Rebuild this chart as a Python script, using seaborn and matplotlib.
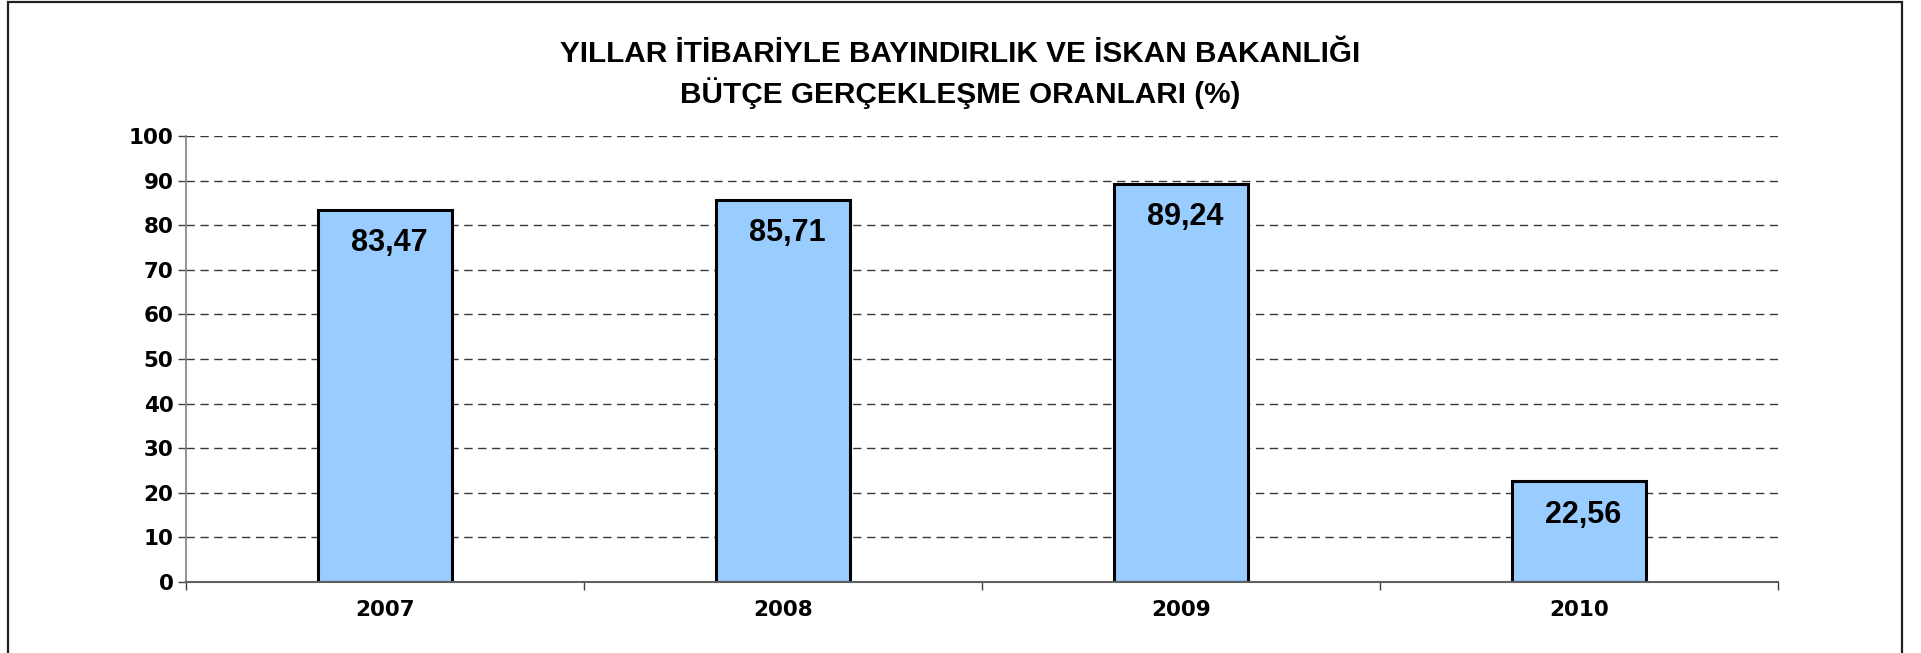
import matplotlib
matplotlib.use("Agg")
import matplotlib.pyplot as plt
import seaborn as sns
import pandas as pd
from matplotlib.patches import Rectangle

# ==========================
# DATA
# ==========================
years = ["2007", "2008", "2009", "2010"]
rates = [83.47, 85.71, 89.24, 22.56]
rate_labels = ["83,47", "85,71", "89,24", "22,56"]
y_ticks = [0, 10, 20, 30, 40, 50, 60, 70, 80, 90, 100]
title_lines = [
    "YILLAR İTİBARİYLE BAYINDIRLIK VE İSKAN BAKANLIĞI",
    "BÜTÇE GERÇEKLEŞME ORANLARI (%)",
]

df = pd.DataFrame({"year": years, "rate": rates})

# ==========================
# FIGURE
# ==========================
sns.set_theme(style="white")
plt.rcParams["font.family"] = ["DejaVu Sans"]
plt.rcParams["text.color"] = "black"
plt.rcParams["xtick.color"] = "black"
plt.rcParams["ytick.color"] = "black"

fig = plt.figure(figsize=(19.21, 6.53), dpi=100)
ax = fig.add_axes([0.0968, 0.1087, 0.9256 - 0.0968, 0.7917 - 0.1087])

# gridlines first so bars sit on top
ax.set_axisbelow(True)
ax.yaxis.grid(True, color="#383838", linestyle=(0, (6, 4)), linewidth=1.0)
ax.xaxis.grid(False)

sns.barplot(
    data=df, x="year", y="rate", ax=ax,
    color="#99CCFF", edgecolor="black", linewidth=2.2,
    width=0.337, saturation=1,
)

ax.set_xlim(-0.5, len(years) - 0.5)
ax.set_ylim(0, 100)
ax.set_yticks(y_ticks)
ax.set_yticklabels([str(t) for t in y_ticks], fontsize=15.5, fontweight="bold",
                   color="black")
ax.set_xticks(range(len(years)))
ax.set_xticklabels(years, fontsize=15.5, fontweight="bold", color="black")
ax.set_xlabel("")
ax.set_ylabel("")

# category boundary ticks on x axis
ax.set_xticks([i - 0.5 for i in range(len(years) + 1)], minor=True)
ax.tick_params(axis="x", which="major", length=0, pad=13)
ax.tick_params(axis="x", which="minor", length=6, width=1, color="#404040",
               direction="out", bottom=True)
ax.tick_params(axis="y", which="major", length=6, width=1, color="#404040",
               direction="out", left=True, pad=3)

for side in ["top", "right"]:
    ax.spines[side].set_visible(False)
ax.spines["left"].set_color("#808080")
ax.spines["left"].set_linewidth(1.2)
ax.spines["bottom"].set_color("#606060")
ax.spines["bottom"].set_linewidth(1.5)

# value labels inside the bars
for i, (val, lab) in enumerate(zip(rates, rate_labels)):
    ax.annotate(
        lab, xy=(i, val), xytext=(3, -24), textcoords="offset points",
        ha="center", va="center", fontsize=22, fontweight="bold", color="black",
        family=["Liberation Sans", "DejaVu Sans"],
    )

# title
fig.text(0.5, 0.918, title_lines[0], ha="center", va="center", color="black",
         fontsize=21.4, fontweight="bold", family=["Liberation Sans", "DejaVu Sans"])
fig.text(0.5, 0.857, title_lines[1], ha="center", va="center", color="black",
         fontsize=21.4, fontweight="bold", family=["Liberation Sans", "DejaVu Sans"])

# outer frame
fig.patches.append(Rectangle(
    (8 / 1921, -0.02), (1902 - 8) / 1921, 1.017,
    transform=fig.transFigure, fill=False, edgecolor="#202020",
    linewidth=1.6, clip_on=False,
))

fig.savefig("out.png", dpi=100, facecolor="white")
